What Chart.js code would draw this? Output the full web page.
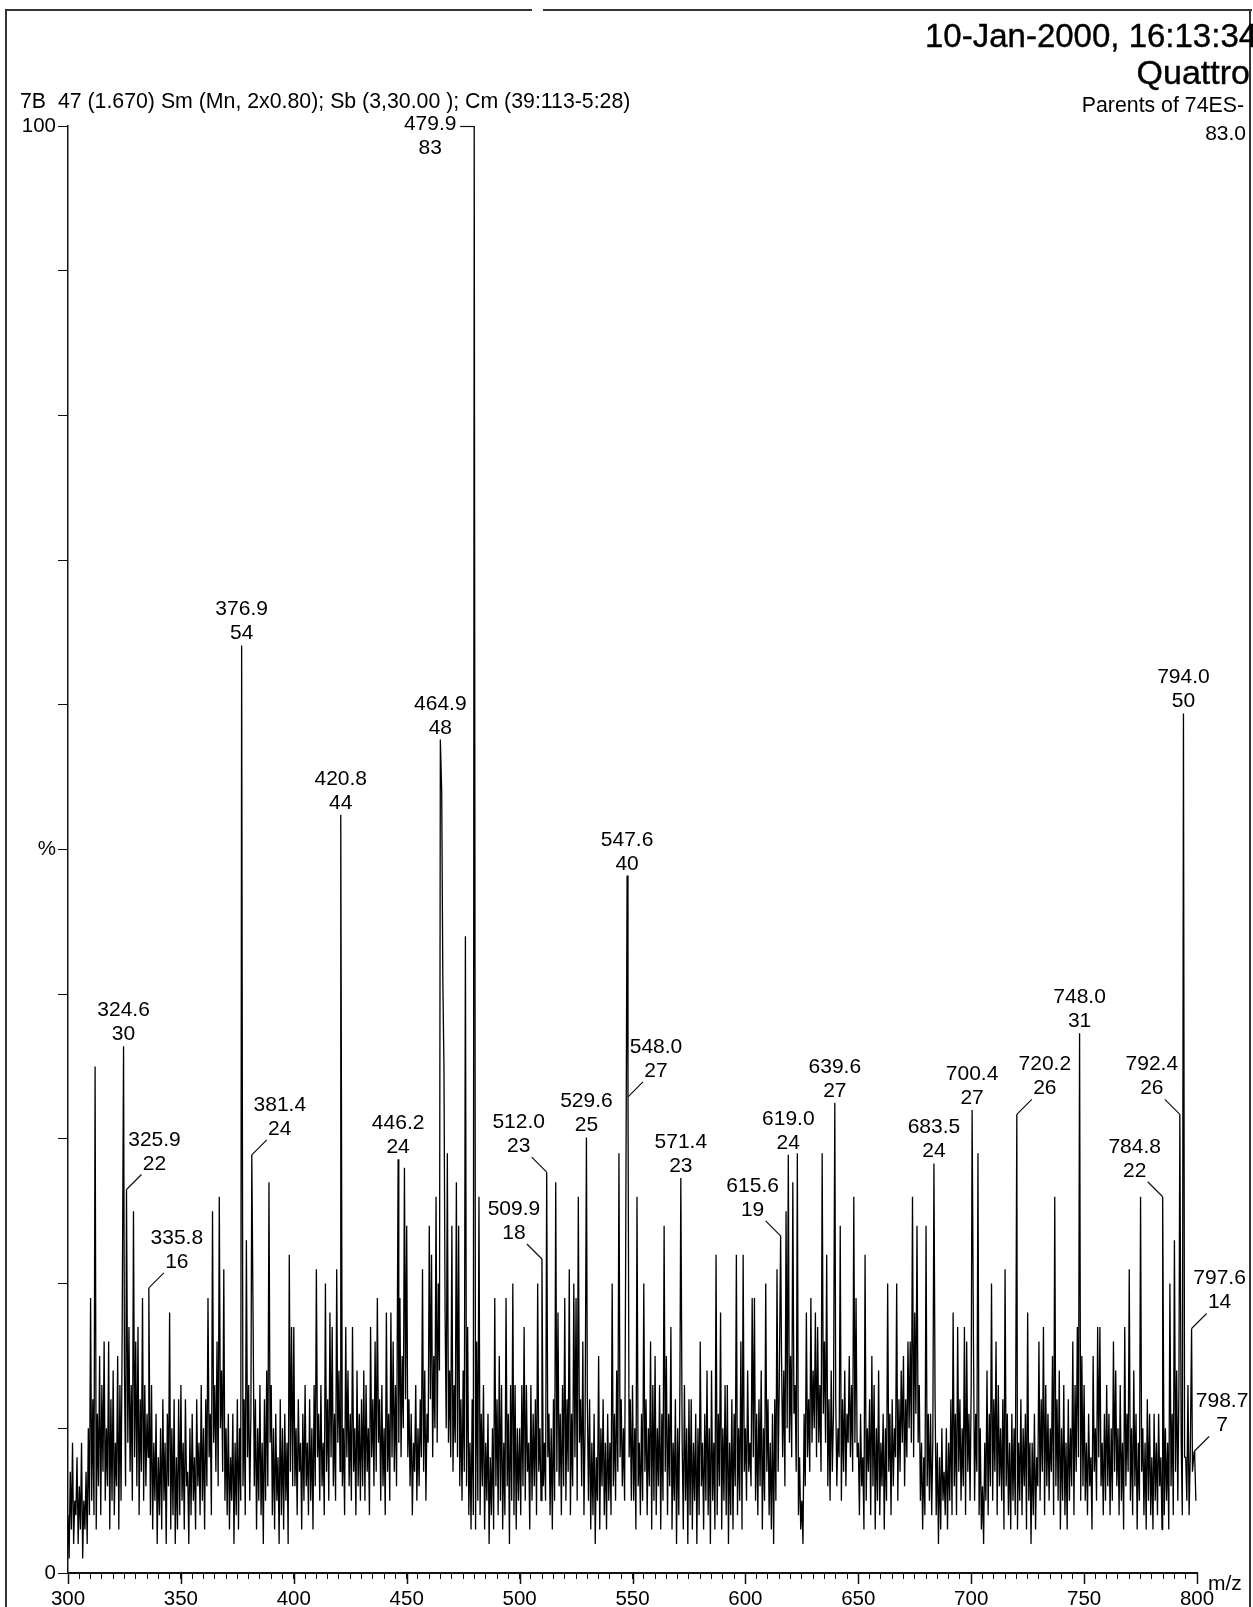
<!DOCTYPE html>
<html>
<head>
<meta charset="utf-8">
<title>Parents of 74ES-</title>
<script src="https://cdn.jsdelivr.net/npm/chart.js@4.4.1/dist/chart.umd.min.js"></script>
<style>
  body { margin: 0; background: #fff; }
  #page { position: relative; width: 1253px; height: 1607px; overflow: hidden; background: #fff; }
  #page canvas { position: absolute; left: 0; top: 0; }
  .txt { position: absolute; white-space: nowrap; line-height: 1; color: #000;
         font-family: "Liberation Sans", Arial, sans-serif; }
  .big { -webkit-text-stroke: 0.4px #000; }
  .frame { position: absolute; background: #333; }
</style>
</head>
<body>
<div id="page">
  <canvas id="spectrum" width="1253" height="1607"></canvas>
  <div class="frame" style="left:5px;top:9px;width:2px;height:1598px"></div>
  <div class="frame" style="left:5px;top:9px;width:527px;height:2px"></div>
  <div class="frame" style="left:543px;top:9px;width:709px;height:2px"></div>
  <div class="frame" style="left:1249px;top:9px;width:2px;height:1598px"></div>
  <div class="txt big" style="left:925px;top:19px;font-size:33px">10-Jan-2000, 16:13:34</div>
  <div class="txt big" style="right:3px;top:55px;font-size:34px">Quattro</div>
  <div class="txt" style="left:20px;top:91px;font-size:21.3px">7B&nbsp; 47 (1.670) Sm (Mn, 2x0.80); Sb (3,30.00 ); Cm (39:113-5:28)</div>
  <div class="txt" style="right:9px;top:95px;font-size:21.3px">Parents of 74ES-</div>
  <div class="txt" style="right:7px;top:122px;font-size:21px">83.0</div>
  <div class="txt" style="left:1208px;top:1572px;font-size:21px">m/z</div>
</div>
<script>
// intensity (%) sampled at whole m/z values, one array per 50 m/z
const int300 = [4,7,9,5,8,6,9,5,7,10, 19,12,35,11,15,13,16,10,16,12, 14,9,15,13,17,14,12,17,13,25, 16,17,12,19,13,11,12,13,9,11, 8,10,12,9,11,18,10,12,8,12];
const int350 = [13,9,12,7,10,11,8,12,9,13, 10,12,19,11,25,13,16,26,14,21, 10,11,8,11,9,12,10,14,12,23, 13,11,17,12,10,13,9,12,14,27, 13,10,11,8,12,10,11,9,22,17];
const int400 = [17,10,12,9,11,13,9,12,10,13, 21,11,13,9,20,12,18,17,11,21, 14,12,10,17,14,11,17,10,14,11, 12,14,13,10,17,12,16,19,12,13, 10,18,11,18,16,13,14,19,15,28];
const int450 = [24,12,11,9,13,10,12,21,14,11, 24,22,15,26,20,20,41,18,29,14, 24,13,27,24,12,14,44,17,9,12, 10,16,26,11,13,9,11,8,10,19, 12,15,13,9,19,11,13,20,13,10];
const int500 = [10,13,17,13,9,13,11,12,20,10, 12,9,14,11,10,12,27,18,11,13, 19,12,21,11,20,19,26,12,16,10, 12,12,9,11,8,15,10,12,9,11, 9,20,11,14,29,12,10,23,10,12];
const int550 = [13,10,26,9,11,20,12,10,16,13, 15,10,13,11,24,15,11,17,9,12, 10,13,9,13,10,12,12,9,11,10, 16,9,11,14,10,14,9,22,11,18, 10,13,13,9,12,11,22,10,16,22];
const int600 = [10,14,9,19,19,11,12,14,10,20, 12,9,11,12,21,13,15,14,25,20, 15,27,13,29,8,5,11,18,12,19, 14,18,17,13,29,16,22,12,14,11, 12,10,24,12,14,11,15,13,26,19];
const int650 = [9,11,8,22,10,12,15,13,10,14, 9,11,10,20,11,12,10,20,12,14, 15,12,16,16,26,18,24,13,9,8, 24,11,11,9,12,9,8,10,7,10, 9,12,18,11,17,12,10,17,16,11];
const int700 = [13,16,11,29,10,6,9,14,11,20, 12,16,13,10,12,21,11,9,11,10, 12,9,12,10,11,18,9,9,11,8, 16,12,17,13,11,10,15,26,12,14, 10,13,9,12,10,16,13,17,12,15];
const int750 = [13,9,11,8,15,10,17,17,9,11, 13,11,10,16,14,10,13,9,17,11, 21,10,14,11,9,26,10,9,12,11, 8,11,9,11,8,10,10,9,20,11, 23,14,13,9,10,8,13,8,7,8];

// intensity (%) sampled half way between whole m/z values
const half300 = [1,3,2,4,2,3,1,3,2,4, 5,4,3,6,4,7,5,6,3,5, 4,6,3,5,8,6,9,7,5,8, 6,4,7,5,6,8,4,3,5,2, 4,3,5,2,6,3,4,2,3,4];
const half350 = [5,3,6,2,4,5,3,6,4,5, 3,6,8,4,9,7,6,10,7,5, 4,3,5,2,4,3,5,6,4,8, 5,7,6,3,5,4,2,5,6,9, 4,3,5,2,4,3,5,2,7,6];
const half400 = [6,4,7,3,5,6,4,5,3,6, 8,5,6,4,7,5,8,6,5,9, 7,6,4,8,6,5,7,4,6,5, 6,5,7,4,8,6,7,9,5,6, 4,7,5,8,7,6,9,8,10,12];
const half450 = [8,6,4,7,5,6,8,7,5,9, 12,8,10,9,14,54,35,10,9,8, 7,9,8,6,5,7,6,4,3,4, 3,5,4,6,3,5,2,4,3,6, 4,5,3,4,6,2,5,4,3,5];
const half500 = [4,6,5,7,3,5,6,4,7,5, 6,5,8,4,3,5,7,6,4,6, 5,7,4,6,8,5,9,6,4,7, 5,3,4,2,5,3,6,4,3,5, 4,6,5,7,8,6,5,9,8,5];
const half550 = [5,3,6,4,5,7,4,6,3,5, 4,6,3,5,7,4,6,3,5,2, 4,6,3,5,2,4,3,5,2,4, 6,3,5,4,2,5,3,4,6,3, 5,4,2,4,3,6,4,5,3,7];
const half600 = [5,7,6,8,5,4,6,3,5,7, 4,3,2,5,7,9,8,6,10,9, 8,11,7,4,3,2,6,8,7,9, 10,8,9,7,11,9,6,5,7,9, 6,8,5,7,6,9,8,7,9,8];
const half650 = [4,6,3,5,7,4,6,3,5,4, 6,3,5,7,4,6,8,5,7,9, 6,8,10,9,8,11,9,5,3,4, 6,5,4,3,4,2,3,5,4,3, 5,4,6,4,7,5,6,4,7,5];
const half700 = [6,5,7,4,3,2,5,4,6,5, 7,4,6,5,3,6,4,3,5,4, 3,5,4,6,3,5,2,4,3,6, 5,7,4,6,5,7,4,6,5,3, 5,4,3,5,6,4,7,8,5,6];
const half750 = [5,4,6,3,7,5,8,6,4,5, 6,4,5,7,6,4,5,3,6,7, 5,4,6,3,5,7,4,3,5,4, 3,5,4,6,3,4,5,3,6,4, 7,5,6,4,8,5,4,6,4,5];

const segStarts = [300, 350, 400, 450, 500, 550, 600, 650, 700, 750];
const intSegs = [int300, int350, int400, int450, int500, int550, int600, int650, int700, int750];
const halfSegs = [half300, half350, half400, half450, half500, half550, half600, half650, half700, half750];

// labelled peaks: m/z, printed intensity, and height (%)
const peakMz = [324.6, 325.9, 335.8, 376.9, 381.4, 420.8, 446.2, 464.9, 479.9, 509.9, 512.0, 529.6, 547.6, 548.0,
                571.4, 615.6, 619.0, 639.6, 683.5, 700.4, 720.2, 748.0, 784.8, 792.4, 794.0, 797.6, 798.7];
const peakCounts = [30, 22, 16, 54, 24, 44, 24, 48, 83, 18, 23, 25, 40, 27,
                    23, 19, 24, 27, 24, 27, 26, 31, 22, 26, 50, 14, 7];
const peakPct = [36.4, 26.5, 19.7, 64.1, 28.9, 52.4, 28.6, 57.6, 100, 21.7, 27.7, 30.1, 48.2, 32.9,
                 27.3, 23.3, 28.9, 32.5, 28.3, 32.0, 31.7, 37.3, 26.0, 31.7, 59.4, 16.9, 8.4];
const labelSide = ['top','right','right','top','right','top','top','top','stub','left','left','top','top','right',
                   'top','left','top','top','top','top','right','top','left','left','top','right','right'];

const xMajorTicks = [300, 350, 400, 450, 500, 550, 600, 650, 700, 750, 800];
const yLabelValues = [0, 50, 100];
const yLabelTexts = ['0', '%', '100'];

function buildSpectrum() {
    const points = [];
    segStarts.forEach((start, s) => {
        for (let j = 0; j < intSegs[s].length; j++) {
            points.push({ x: start + j, y: intSegs[s][j] });
            points.push({ x: start + j + 0.5, y: halfSegs[s][j] });
        }
    });
    // labelled peaks replace the samples that sit on them
    const kept = points.filter(p => !peakMz.some(m => Math.abs(m - p.x) < 0.25));
    peakMz.forEach((m, i) => kept.push({ x: m, y: peakPct[i] }));
    kept.sort((a, b) => a.x - b.x);
    return kept;
}

const FONT = '"Liberation Sans", Arial, sans-serif';

const peakLabels = {
    id: 'peakLabels',
    afterDraw(chart) {
        const ctx = chart.ctx;
        const xs = chart.scales.x;
        const ys = chart.scales.y;
        const bottom = chart.chartArea.bottom;
        ctx.save();
        ctx.strokeStyle = '#111';
        ctx.fillStyle = '#000';

        // longer ticks at the labelled m/z values
        ctx.lineWidth = 1.5;
        xMajorTicks.forEach(v => {
            const px = Math.round(xs.getPixelForValue(v)) + 0.5;
            ctx.beginPath();
            ctx.moveTo(px, bottom);
            ctx.lineTo(px, bottom + 11);
            ctx.stroke();
        });

        ctx.lineWidth = 1.2;
        ctx.font = '21px ' + FONT;
        ctx.textAlign = 'center';
        ctx.textBaseline = 'alphabetic';
        peakMz.forEach((mz, i) => {
            const px = xs.getPixelForValue(mz);
            const py = ys.getPixelForValue(peakPct[i]);
            const side = labelSide[i];
            let cx = px;
            let b2 = py - 6;
            if (side === 'right' || side === 'left') {
                const d = side === 'right' ? 1 : -1;
                ctx.beginPath();
                ctx.moveTo(px, py);
                ctx.lineTo(px + d * 15, py - 15);
                ctx.stroke();
                cx = px + d * 28;
                b2 = py - 20;
            } else if (side === 'stub') {
                ctx.beginPath();
                ctx.moveTo(px - 14, py + 0.5);
                ctx.lineTo(px, py + 0.5);
                ctx.stroke();
                cx = px - 44;
                b2 = py + 28;
            }
            ctx.fillText(mz.toFixed(1), cx, b2 - 24);
            ctx.fillText(String(peakCounts[i]), cx, b2);
        });
        ctx.restore();
    }
};

new Chart(document.getElementById('spectrum').getContext('2d'), {
    type: 'line',
    data: {
        datasets: [{
            data: buildSpectrum(),
            borderColor: '#000',
            borderWidth: 1.3,
            borderJoinStyle: 'bevel',
            pointRadius: 0,
            tension: 0,
            fill: false
        }]
    },
    options: {
        responsive: false,
        devicePixelRatio: 1,
        animation: false,
        layout: { autoPadding: false, padding: { top: 126, right: 56, bottom: 0, left: 0 } },
        plugins: { legend: { display: false }, tooltip: { enabled: false } },
        scales: {
            x: {
                type: 'linear',
                min: 300,
                max: 800,
                afterFit: scale => { scale.height = 34; },
                border: { display: true, color: '#111', width: 2 },
                grid: { drawOnChartArea: false, drawTicks: true, tickLength: 6, color: '#111', lineWidth: 1 },
                ticks: {
                    stepSize: 5,
                    autoSkip: false,
                    maxRotation: 0,
                    padding: 8,
                    color: '#000',
                    font: { family: FONT, size: 20.5 },
                    callback: v => xMajorTicks.includes(v) ? String(v) : ''
                }
            },
            y: {
                min: 0,
                max: 100,
                afterFit: scale => { scale.width = 68; },
                border: { display: true, color: '#111', width: 1.5 },
                grid: { drawOnChartArea: false, drawTicks: true, tickLength: 10, color: '#111', lineWidth: 1 },
                ticks: {
                    stepSize: 10,
                    autoSkip: false,
                    padding: 2,
                    color: '#000',
                    font: { family: FONT, size: 20.5 },
                    callback: v => {
                        const k = yLabelValues.indexOf(v);
                        return k >= 0 ? yLabelTexts[k] : '';
                    }
                }
            }
        }
    },
    plugins: [peakLabels]
});
</script>
</body>
</html>
